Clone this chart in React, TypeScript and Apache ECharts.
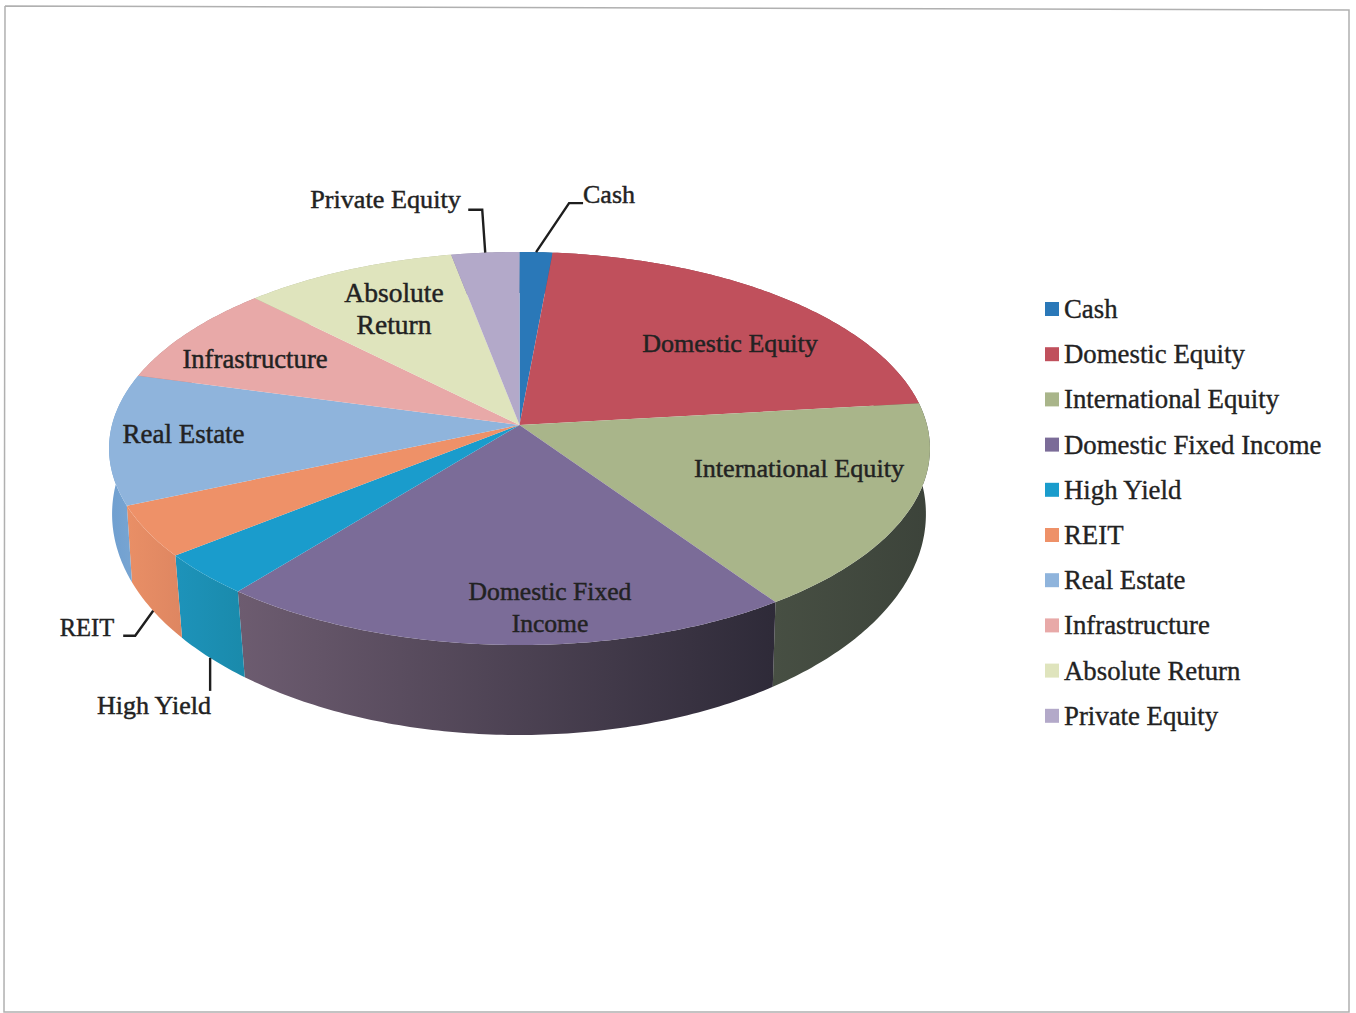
import React, { useEffect, useRef } from "react";
import * as echarts from "echarts";

const categories = ["Cash", "Domestic Equity", "International Equity", "Domestic Fixed Income", "High Yield", "REIT", "Real Estate", "Infrastructure", "Absolute Return", "Private Equity"];
const allocations = [1.45, 21.74, 17.23, 20.36, 3.5, 4.22, 10.72, 8.34, 9.44, 3.0];
const topColors = ["#2a78b8", "#c0505c", "#a9b58a", "#7b6c98", "#1a9ccc", "#ee9168", "#8fb4dc", "#e8a9a8", "#dfe4bd", "#b3a9c9"];
const sideLeft = ["#1f5f90", "#8c3a44", "#474f43", "#6d5c70", "#1d93ba", "#e98f66", "#6f9fd0", "#b08080", "#b0b495", "#8a829e"];
const sideRight = ["#1f5f90", "#8c3a44", "#3c433a", "#2e2a38", "#1a8aab", "#de8661", "#7aa6d2", "#b08080", "#b0b495", "#8a829e"];

const LABEL_LAYOUT = [
  { text: "Cash", x: 609, y: 194, size: 26 },
  { text: "Domestic Equity", x: 730, y: 343.5, size: 26 },
  { text: "International Equity", x: 799, y: 468.5, size: 26.2 },
  { text: "Domestic Fixed\nIncome", x: 550, y: 607.5, size: 25.6 },
  { text: "High Yield", x: 154, y: 705.5, size: 26 },
  { text: "REIT", x: 87, y: 627.5, size: 24.5 },
  { text: "Real Estate", x: 183.5, y: 433.5, size: 27 },
  { text: "Infrastructure", x: 255, y: 358.5, size: 26.7 },
  { text: "Absolute\nReturn", x: 394, y: 308.5, size: 27.5 },
  { text: "Private Equity", x: 385.5, y: 199.5, size: 26.2 },
];

// leaders: slice index, fraction along the slice's rim, rim (top or bottom), elbow offsets
const LEADERS = [
  { i: 0, f: 0.5, rim: "top", pts: [[33, -49], [47, -49]] },
  { i: 9, f: 0.5, rim: "top", pts: [[-3, -43], [-17, -43]] },
  { i: 5, f: 0.5, rim: "bottom", pts: [[-18, 25], [-30, 25]] },
  { i: 4, f: 0.52, rim: "bottom", pts: [[0, 33]] },
];

const total = allocations.reduce((a, b) => a + b, 0);
const toAngle = (v: number) => (v / total) * 360;
const startAngles = allocations.map((_, i) => allocations.slice(0, i).reduce((a, b) => a + toAngle(b), 0));

// perspective projection of the disc
const K = 0.1196;
const TOP = { cx: 519.5, cy: 425, a: 407.5, b: 193.7, skew: 0 };
const BOTTOM = { cx: 519, cy: 487.6, a: 404, b: 217.8, skew: 1 };

function project(deg: number, rim: typeof TOP) {
  const d = deg > 180 ? deg - rim.skew * Math.min(1, (deg - 180) / 45) : deg;
  const t = (d * Math.PI) / 180;
  const u = Math.sin(t);
  const v = -Math.cos(t);
  const w = 1 - K * v;
  return [rim.cx + (rim.a * u) / w, rim.cy + (rim.b * v) / w];
}

function arc(from: number, to: number, rim: typeof TOP) {
  const pts: number[][] = [];
  const n = Math.max(2, Math.ceil((to - from) / 0.75));
  for (let i = 0; i <= n; i++) pts.push(project(from + ((to - from) * i) / n, rim));
  return pts;
}

const FONT = '"Liberation Serif", "Times New Roman", serif';

function renderSide(_: any, api: any) {
  const i = api.value(0);
  const from = startAngles[i];
  const to = from + toAngle(allocations[i]);
  const pts = [...arc(from, to, TOP), ...arc(from, to, BOTTOM).reverse()];
  return {
    type: "polygon",
    shape: { points: pts },
    style: {
      fill: new echarts.graphic.LinearGradient(0, 0, 1, 0, [
        { offset: 0, color: sideLeft[i] },
        { offset: 1, color: sideRight[i] },
      ]),
    },
    silent: true,
  };
}

function renderTop(i: number) {
  return (_: any, api: any) => {
    const value = api.value(0);
    const from = startAngles[i];
    const to = from + toAngle(value);
    return {
      type: "polygon",
      shape: { points: [[TOP.cx, TOP.cy], ...arc(from, to, TOP)] },
      style: { fill: topColors[i] },
      silent: true,
    };
  };
}

function renderLabel(_: any, api: any) {
  const l = LABEL_LAYOUT[api.value(0)];
  return {
    type: "text",
    x: l.x,
    y: l.y,
    silent: true,
    style: {
      text: l.text,
      font: `${l.size}px ${FONT}`,
      fill: "#222222",
      align: "center",
      verticalAlign: "middle",
      lineHeight: 32.5,
      stroke: "#222222",
      lineWidth: 0.45,
    },
  };
}

function renderLeader(_: any, api: any) {
  const l = LEADERS[api.value(0)];
  const deg = startAngles[l.i] + toAngle(allocations[l.i]) * l.f;
  const p = project(deg, l.rim === "top" ? TOP : BOTTOM);
  return {
    type: "polyline",
    silent: true,
    shape: { points: [p, ...l.pts.map(([dx, dy]) => [p[0] + dx, p[1] + dy])] },
    style: { stroke: "#1e1e1e", lineWidth: 2.4, fill: "none" },
  };
}

export default function App() {
  const ref = useRef<HTMLDivElement>(null);
  useEffect(() => {
    document.body.style.margin = "0";
    const chart = echarts.init(ref.current!, undefined, { renderer: "svg" });
    chart.setOption({
      animation: false,
      backgroundColor: "#ffffff",
      legend: {
        data: categories,
        orient: "vertical",
        left: 1045,
        top: 294,
        padding: 0,
        itemWidth: 14,
        itemHeight: 14,
        itemGap: 15.2,
        selectedMode: false,
        icon: "rect",
        textStyle: {
          fontFamily: FONT,
          fontSize: 26.8,
          color: "#222222",
          height: 30,
          lineHeight: 30,
          textBorderColor: "#222222",
          textBorderWidth: 0.35,
        },
      },
      graphic: [
        {
          type: "polyline",
          silent: true,
          shape: { points: [[5, 6], [1349, 10], [1349, 1012], [4, 1012], [5, 6]] },
          style: { stroke: "#b0b0b0", lineWidth: 1.5, fill: "none" },
        },
      ],
      series: [
        {
          type: "custom",
          coordinateSystem: "none",
          z: 2,
          renderItem: renderSide,
          data: categories.map((_, i) => [i]),
        },
        ...categories.map((name, i) => ({
          type: "custom",
          name,
          coordinateSystem: "none",
          z: 3,
          itemStyle: { color: topColors[i] },
          renderItem: renderTop(i),
          data: [[allocations[i]]],
        })),
        {
          type: "custom",
          coordinateSystem: "none",
          z: 4,
          renderItem: renderLeader,
          data: LEADERS.map((_, i) => [i]),
        },
        {
          type: "custom",
          coordinateSystem: "none",
          z: 5,
          renderItem: renderLabel,
          data: LABEL_LAYOUT.map((_, i) => [i]),
        },
      ],
    });
    return () => chart.dispose();
  }, []);
  return <div ref={ref} style={{ position: "absolute", left: 0, top: 0, width: 1356, height: 1013 }} />;
}
